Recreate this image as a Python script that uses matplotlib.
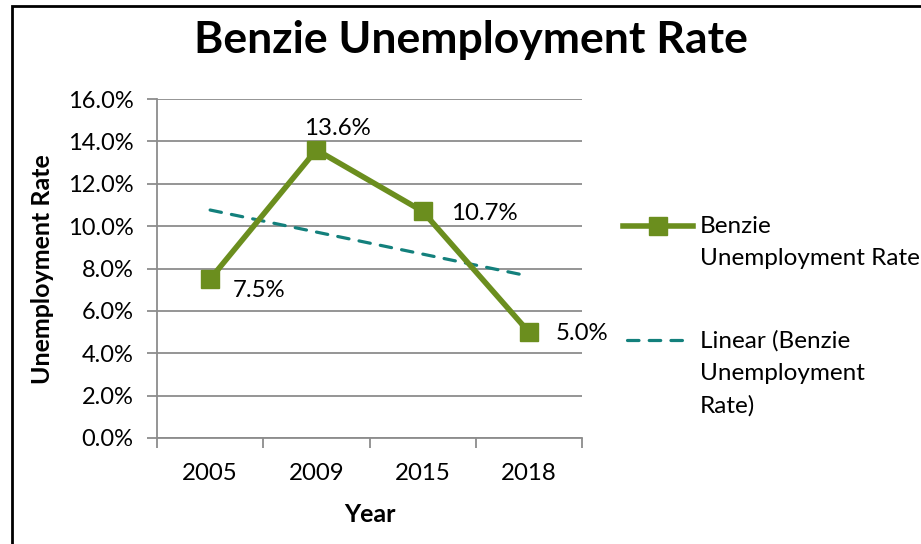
import numpy as np
import matplotlib.pyplot as plt
from matplotlib.patches import Rectangle
from matplotlib.lines import Line2D

plt.rcParams['font.family'] = ['Lato', 'DejaVu Sans']

years = ['2005', '2009', '2015', '2018']
rate = [7.5, 13.6, 10.7, 5.0]
labels = ['7.5%', '13.6%', '10.7%', '5.0%']
yticks = [0, 2, 4, 6, 8, 10, 12, 14, 16]

green = '#6B8E1E'
teal = '#13807C'
gray = '#8C8C8C'
dash = (0, (3.6, 3.2))

W, H = 921, 544
fig = plt.figure(figsize=(W / 100, H / 100), dpi=100)
ax = fig.add_axes([157 / W, 1 - 438 / H, (582 - 157) / W, (438 - 99) / H])

x = np.arange(len(years))
ax.plot(x, rate, color=green, lw=4, marker='s', ms=13, mec=green, mfc=green, zorder=3)

# linear trend
k, b = np.polyfit(x + 1, rate, 1)
ax.plot(x, k * (x + 1) + b, color=teal, lw=2.3, ls=dash, dash_capstyle='round', zorder=2)

# offsets in pixels: (dx, dy, ha)
offs = [(23, -11, 'left'), (21, 21, 'center'), (28, -2, 'left'), (27, -1, 'left')]
for i, (lab, (dx, dy, ha)) in enumerate(zip(labels, offs)):
    ax.annotate(lab, (x[i], rate[i]), xytext=(dx, dy), textcoords='offset pixels',
                ha=ha, va='center', fontsize=17.3, zorder=4)

ax.set_xlim(-0.5, 3.5)
ax.set_ylim(0, 16)
ax.set_yticks(yticks)
ax.set_yticklabels([f'{v:.1f}%' for v in yticks], fontsize=17)
ax.set_xticks(x)
ax.set_xticklabels(years, fontsize=17.3)
ax.set_xticks(np.arange(-0.5, 4, 1), minor=True)
ax.tick_params(axis='x', which='major', length=0, pad=18)
ax.tick_params(axis='x', which='minor', length=7, color=gray, width=1.3)
ax.tick_params(axis='y', length=7, color=gray, width=1.3, pad=10)
ax.grid(axis='y', color=gray, lw=1.3)
ax.set_axisbelow(True)
for s in ['top', 'right']:
    ax.spines[s].set_visible(False)
for s in ['left', 'bottom']:
    ax.spines[s].set_color(gray)
    ax.spines[s].set_linewidth(1.3)

fig.text(370 / W, 1 - 515 / H, 'Year', ha='center', va='center',
         fontsize=18, fontweight='bold')
fig.text(42 / W, 1 - 269 / H, 'Unemployment Rate', ha='center', va='center',
         rotation=90, fontsize=18, fontweight='bold')
fig.text(471 / W, 1 - 40 / H, 'Benzie Unemployment Rate', ha='center', va='center',
         fontsize=32, fontweight='bold')


# legend
def fy(py):
    return 1 - py / H


fig.add_artist(Line2D([623 / W, 693 / W], [fy(226), fy(226)], color=green, lw=4,
                      transform=fig.transFigure))
fig.add_artist(Line2D([658 / W], [fy(226)], color=green, marker='s', ms=13,
                      transform=fig.transFigure))
fig.add_artist(Line2D([627 / W, 690 / W], [fy(340), fy(340)], color=teal, lw=2.3,
                      ls=dash, dash_capstyle='round', transform=fig.transFigure))
fig.text(700 / W, fy(226 - 10), 'Benzie\nUnemployment Rate', ha='left', va='top',
         fontsize=17.5, linespacing=1.65)
fig.text(700 / W, fy(340 - 10), 'Linear (Benzie\nUnemployment\nRate)', ha='left', va='top',
         fontsize=17.5, linespacing=1.65)

fig.patches.append(Rectangle((12 / W, -0.1), 1.2, 1 - 6 / H + 0.1,
                             transform=fig.transFigure, fill=False, ec='black', lw=2))

fig.savefig('out.png', dpi=100)
